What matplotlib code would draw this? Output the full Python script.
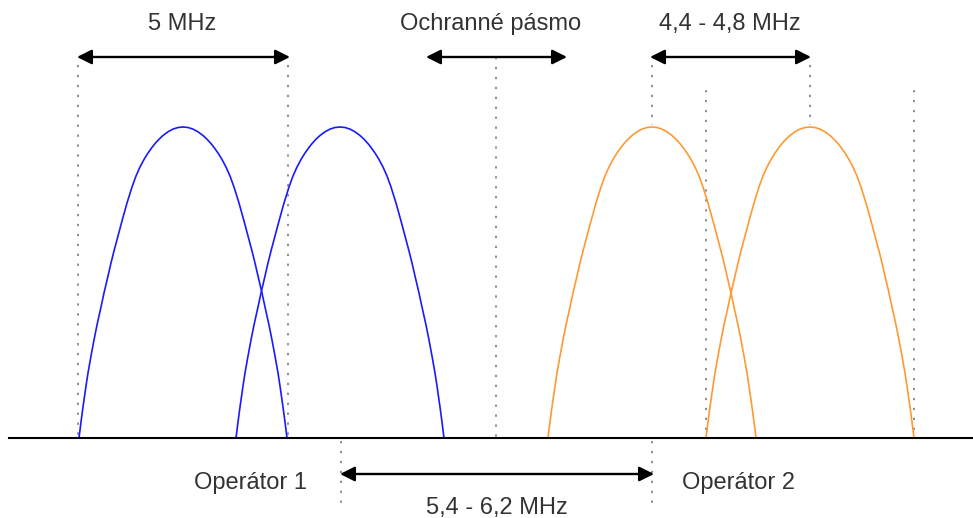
import numpy as np
import matplotlib
matplotlib.use("Agg")
import matplotlib.pyplot as plt

# carrier centres (pixel-like units along the frequency axis)
op1_centres = [183, 340]
op2_centres = [652, 810]

# shape of one carrier: offset from centre -> height above baseline
half_dx = [-104, -102, -100, -97, -95, -92, -89, -86, -82, -79, -75, -72, -69, -65, -61, -56,
           -51, -47, -43, -39, -35, -31, -28, -24, -20, -15, -10, -5, 0]
half_h = [0, 16, 31, 52, 65, 82, 98, 113, 131, 145, 162, 175, 187, 202, 217, 235,
          251, 262, 271, 278.5, 285, 290.6, 294.4, 298.8, 302.5, 306.2, 308.9, 310.5, 311]
profile_dx = half_dx + [-d for d in half_dx[-2::-1]]
profile_h = half_h + half_h[-2::-1]

baseline = 438

# dotted guide lines: x, y top, y bottom
guides = [(78, 65, 438), (288, 65, 438), (496, 57, 438),
          (652, 65, 125), (810, 65, 125), (706, 90, 438), (914, 90, 438),
          (341, 441, 506), (652, 441, 506)]

# double arrows: x start, x end, y
arrows = [(77, 290, 57), (426, 567, 57), (650, 811, 57), (340, 654, 474)]

labels = [("5 MHz", 182, 30), ("Ochranné pásmo", 491, 30), ("4,4 - 4,8 MHz", 730, 30),
          ("Operátor 1", 250, 489), ("Operátor 2", 738, 489), ("5,4 - 6,2 MHz", 497, 514)]

fig = plt.figure(figsize=(9.73, 5.18), dpi=100)
ax = fig.add_axes([0, 0, 1, 1])
ax.set_xlim(0, 973)
ax.set_ylim(518, 0)
ax.axis("off")

dx = np.array(profile_dx)
h = np.array(profile_h)
for c in op1_centres:
    ax.plot(c + dx, baseline - h, color="#1a1aff", lw=1.2, zorder=3)
for c in op2_centres:
    ax.plot(c + dx, baseline - h, color="#ff9933", lw=1.2, zorder=3)

for x, y0, y1 in guides:
    ax.plot([x, x], [y0, y1], color="#707070", lw=1.1, linestyle=(0, (1.5, 5)), zorder=2)

ax.plot([9, 973], [baseline, baseline], color="black", lw=1.5, zorder=4)

for x0, x1, y in arrows:
    ax.annotate("", xy=(x1, y), xytext=(x0, y),
                arrowprops=dict(arrowstyle="<|-|>", color="black", lw=1.7,
                                mutation_scale=22, shrinkA=0, shrinkB=0))

for txt, x, y in labels:
    ax.text(x, y, txt, ha="center", va="baseline", fontsize=17,
            family="Liberation Sans", color="#333333")

fig.savefig("out.png", dpi=100)
